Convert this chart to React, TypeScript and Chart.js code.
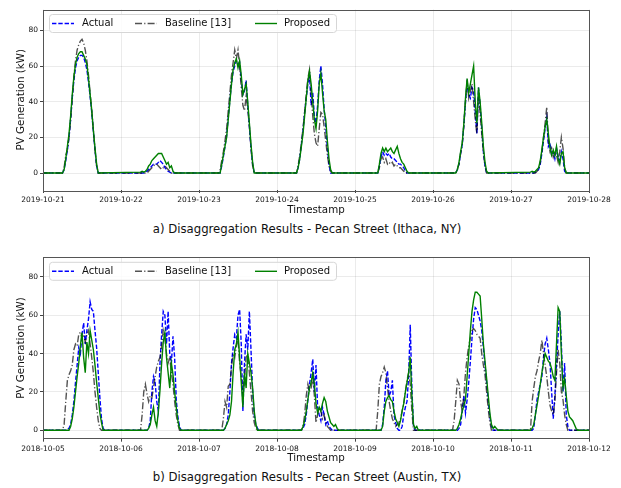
import React, { useEffect, useRef } from "react";
import { Chart, registerables } from "chart.js";

Chart.register(...registerables);

// ---------- data ----------
const DAY_START_HOUR = 6;
const STEP_HOURS = 0.5;
const HOURS_PER_DAY = 24;

const ithacaDates = ["2019-10-21", "2019-10-22", "2019-10-23", "2019-10-24", "2019-10-25", "2019-10-26", "2019-10-27", "2019-10-28"];
const austinDates = ["2018-10-05", "2018-10-06", "2018-10-07", "2018-10-08", "2018-10-09", "2018-10-10", "2018-10-11", "2018-10-12"];
const yTicks = [0, 20, 40, 60, 80];
const seriesNames = ["Actual", "Baseline [13]", "Proposed"];
const captions = [
  "a) Disaggregation Results - Pecan Street (Ithaca, NY)",
  "b) Disaggregation Results - Pecan Street (Austin, TX)",
];

// values per day, from 06:00 every 30 minutes (kW)
const ithacaActual = [
  [0, 2, 7, 13, 20, 30, 42, 52, 59, 63, 65, 66, 66, 65, 62, 58, 51, 43, 34, 23, 13, 4, 0],
  [0, 0, 0, 0.5, 1, 2, 3, 4, 5, 5, 5, 6, 7, 6, 5, 3, 2, 1, 0.5, 0],
  [0, 0, 4, 9, 15, 21, 31, 41, 50, 57, 60, 63, 61, 62, 52, 44, 46, 52, 38, 26, 14, 5, 0],
  [0, 3, 8, 16, 24, 34, 42, 50, 55, 38, 45, 32, 28, 38, 52, 60, 50, 36, 26, 14, 5, 0],
  [0, 0, 0, 4, 9, 12, 10, 11, 10, 11, 9, 8, 8, 7, 6, 5, 5, 4, 3, 1, 0],
  [0, 0, 0, 2, 5, 11, 16, 27, 40, 50, 44, 42, 48, 46, 35, 22, 48, 38, 25, 12, 4, 0],
  [0, 0, 0, 0.5, 1, 2, 5, 11, 18, 25, 31, 15, 17, 10, 12, 8, 14, 9, 6, 12, 8, 1, 0],
];
const ithacaBaseline = [
  [0, 3, 10, 13, 20, 30, 42, 54, 63, 69, 72, 74, 75, 73, 69, 63, 55, 45, 35, 24, 13, 4, 0],
  [0, 0, 0, 0, 0, 1, 2, 3, 4, 5, 5, 4, 3, 2, 3, 4, 3, 2, 1, 0],
  [0, 2, 7, 12, 18, 25, 35, 45, 55, 62, 69, 64, 69, 60, 48, 38, 35, 43, 36, 26, 14, 4, 0],
  [0, 4, 10, 17, 25, 34, 44, 53, 58, 45, 32, 22, 17, 15, 25, 34, 33, 26, 18, 10, 4, 1, 0],
  [0, 0, 0, 3, 8, 9, 6, 8, 5, 6, 5, 6, 4, 5, 4, 3, 3, 2, 1, 0],
  [0, 0, 0, 2, 5, 11, 16, 27, 40, 52, 42, 46, 50, 40, 30, 22, 45, 33, 22, 12, 4, 0],
  [0, 0, 0, 0, 1, 2, 6, 12, 20, 28, 37, 18, 12, 14, 9, 12, 10, 6, 12, 20, 14, 3, 0],
];
const ithacaProposed = [
  [0, 2, 8, 15, 22, 32, 44, 54, 61, 65, 67, 68, 68, 66, 64, 61, 53, 44, 35, 24, 14, 5, 0],
  [0.5, 1, 0.5, 1, 2, 4, 5, 7, 8, 9, 10, 11, 11, 11, 9, 7, 5, 6, 3, 4, 1, 0],
  [0, 0, 5, 10, 15, 20, 30, 40, 50, 58, 62, 64, 59, 63, 55, 44, 47, 50, 40, 28, 16, 6, 0],
  [0, 3, 8, 15, 22, 32, 42, 52, 57, 50, 40, 30, 25, 35, 50, 56, 45, 35, 30, 18, 8, 2, 0],
  [0, 0, 0, 5, 11, 14, 12, 14, 12, 13, 14, 12, 11, 13, 15, 11, 8, 6, 5, 3, 1, 0],
  [0, 0, 0, 2, 6, 12, 17, 28, 42, 53, 45, 50, 55, 60, 40, 28, 48, 40, 28, 15, 6, 1, 0],
  [0.5, 1, 0.5, 1, 2, 3, 7, 13, 20, 26, 30, 22, 14, 10, 13, 10, 15, 8, 5, 11, 12, 3, 0],
];

const austinActual = [
  [0, 0, 0, 0.5, 1, 3, 8, 15, 25, 34, 43, 40, 50, 56, 45, 52, 58, 67, 63, 62, 52, 43, 30, 17, 6, 1, 0],
  [0, 0, 0, 0, 0, 1, 5, 20, 28, 25, 15, 10, 35, 50, 62, 60, 45, 62, 40, 35, 49, 38, 16, 7, 2, 0],
  [0, 0, 0, 0, 1, 3, 8, 20, 35, 43, 50, 48, 60, 63, 45, 10, 35, 50, 42, 62, 42, 20, 8, 3, 1, 0],
  [0, 0, 0, 0, 1, 3, 8, 16, 24, 30, 37, 20, 34, 12, 8, 5, 12, 8, 3, 5, 2, 1, 0],
  [0, 0, 0, 0, 0, 3, 12, 26, 31, 18, 20, 26, 8, 4, 1, 0, 0, 2, 8, 12, 15, 28, 55, 22, 2, 0],
  [0, 0, 0, 0, 1, 3, 10, 18, 9, 16, 25, 36, 48, 58, 64, 63, 60, 57, 52, 43, 34, 25, 15, 7, 2, 0],
  [0, 0, 1, 8, 16, 20, 24, 28, 38, 45, 48, 42, 35, 20, 6, 18, 34, 50, 62, 45, 20, 35, 8, 2, 0],
];
const austinBaseline = [
  [0, 3, 15, 26, 29, 31, 34, 42, 45, 44, 50, 51, 48, 50, 46, 50, 52, 45, 38, 30, 20, 12, 5, 1, 0],
  [0, 8, 20, 24, 19, 15, 18, 17, 22, 28, 33, 36, 38, 44, 52, 48, 40, 35, 38, 30, 24, 15, 8, 3, 0],
  [0, 0, 0, 6, 15, 12, 23, 24, 33, 40, 38, 44, 48, 35, 28, 18, 26, 38, 40, 30, 20, 10, 4, 1, 0],
  [0, 0, 0, 0, 2, 8, 18, 24, 20, 22, 28, 18, 4, 8, 12, 10, 6, 8, 4, 2, 1, 0],
  [0, 0, 10, 24, 28, 30, 33, 30, 22, 15, 10, 6, 4, 2, 3, 4, 6, 10, 14, 20, 26, 30, 24, 10, 0],
  [0, 5, 15, 26, 24, 15, 10, 18, 30, 38, 44, 48, 52, 53, 52, 50, 49, 48, 40, 34, 29, 20, 11, 4, 0],
  [0, 15, 22, 28, 31, 36, 40, 47, 40, 34, 28, 20, 13, 10, 8, 15, 30, 42, 35, 20, 16, 8, 3, 0],
];
const austinProposed = [
  [0, 0, 0, 0, 0, 2, 6, 12, 20, 28, 35, 44, 51, 38, 30, 46, 40, 52, 47, 42, 34, 25, 17, 9, 4, 0],
  [0, 0, 0, 0, 0, 1, 3, 8, 12, 5, 2, 10, 21, 35, 46, 51, 38, 30, 22, 35, 29, 20, 12, 5, 1, 0],
  [0, 0, 0, 0, 1, 3, 5, 8, 15, 30, 42, 45, 51, 38, 25, 12, 30, 22, 40, 35, 30, 22, 10, 3, 0],
  [0, 0, 0, 0, 2, 5, 10, 16, 22, 25, 30, 24, 14, 9, 12, 10, 14, 17, 15, 10, 7, 4, 3, 2, 3, 1, 0],
  [0, 0, 0, 0, 0, 2, 10, 15, 17, 18, 16, 15, 10, 6, 4, 2, 5, 10, 14, 20, 25, 30, 38, 18, 3, 1, 2, 0],
  [0, 0, 0, 1, 3, 6, 10, 13, 16, 28, 40, 52, 62, 68, 72, 72, 71, 70, 58, 45, 36, 27, 18, 9, 3, 1, 2, 1, 0],
  [0, 1, 3, 8, 13, 18, 24, 30, 35, 40, 38, 36, 35, 32, 28, 26, 45, 64, 62, 40, 22, 27, 18, 10, 7, 6, 5, 3, 1, 0],
];

// ---------- styling ----------
const FONT = "'DejaVu Sans', 'Liberation Sans', sans-serif";
const TEXT_COLOR = "#111";
const LINE_WIDTH = 1.4;
const seriesStyles = [
  { color: "#0000ff", dash: [4.4, 1.9] },
  { color: "rgba(0,0,0,0.68)", dash: [7, 2.2, 1.2, 2.2] },
  { color: "#008000", dash: [] as number[] },
];

function buildPoints(days: number[][]) {
  const pts: { x: number; y: number }[] = [{ x: 0, y: 0 }];
  days.forEach((vals, d) => {
    vals.forEach((v, i) => {
      pts.push({ x: d * HOURS_PER_DAY + DAY_START_HOUR + i * STEP_HOURS, y: v });
    });
  });
  pts.push({ x: days.length * HOURS_PER_DAY, y: 0 });
  return pts;
}

const framePlugin = {
  id: "frameAndLegend",
  afterDatasetsDraw(chart: any) {
    const { ctx, chartArea } = chart;
    const { left, top, right, bottom } = chartArea;
    ctx.save();
    // legend box
    const bx = left + 6;
    const by = top + 4.5;
    const bw = 287;
    const bh = 18;
    ctx.beginPath();
    if ((ctx as any).roundRect) (ctx as any).roundRect(bx + 0.5, by + 0.5, bw, bh, 3);
    else ctx.rect(bx + 0.5, by + 0.5, bw, bh);
    ctx.fillStyle = "rgba(255,255,255,0.85)";
    ctx.fill();
    ctx.strokeStyle = "#d6d6d6";
    ctx.lineWidth = 1;
    ctx.stroke();
    const cy = by + bh / 2 + 0.5;
    const handleX = [9, 92, 212];
    const textX = [39, 122, 241];
    seriesNames.forEach((name, i) => {
      const st = seriesStyles[i];
      ctx.beginPath();
      ctx.setLineDash(st.dash);
      ctx.strokeStyle = st.color;
      ctx.lineWidth = LINE_WIDTH;
      ctx.moveTo(left + handleX[i], cy);
      ctx.lineTo(left + handleX[i] + 22, cy);
      ctx.stroke();
      ctx.setLineDash([]);
      ctx.fillStyle = TEXT_COLOR;
      ctx.font = `10px ${FONT}`;
      ctx.textBaseline = "middle";
      ctx.textAlign = "left";
      ctx.fillText(name, left + textX[i], cy);
    });
    // frame
    ctx.strokeStyle = "#555";
    ctx.lineWidth = 1;
    ctx.strokeRect(Math.round(left) + 0.5, Math.round(top) + 0.5, Math.round(right - left), Math.round(bottom - top));
    ctx.restore();
  },
};

type PanelProps = {
  dates: string[];
  actual: number[][];
  baseline: number[][];
  proposed: number[][];
  yMin: number;
  yMax: number;
  topPad: number;
  axisHeight: number;
};

function Panel(props: PanelProps) {
  const ref = useRef<HTMLCanvasElement | null>(null);
  useEffect(() => {
    if (!ref.current) return;
    const { dates, actual, baseline, proposed, yMin, yMax, topPad, axisHeight } = props;
    const seriesData = [actual, baseline, proposed];
    const datasets = seriesData.map((days, i) => ({
      label: seriesNames[i],
      data: buildPoints(days),
      borderColor: seriesStyles[i].color,
      borderDash: seriesStyles[i].dash,
      borderWidth: LINE_WIDTH,
      pointRadius: 0,
      tension: 0,
      fill: false,
      order: 2 - i,
    }));
    const totalHours = (dates.length - 1) * HOURS_PER_DAY;
    const chart = new Chart(ref.current, {
      type: "line",
      data: { datasets },
      plugins: [framePlugin],
      options: {
        animation: false,
        responsive: false,
        devicePixelRatio: 1,
        parsing: false,
        normalized: true,
        layout: { padding: { left: 0, right: 32, top: topPad, bottom: 0 } },
        plugins: { legend: { display: false }, tooltip: { enabled: false }, title: { display: false } },
        scales: {
          x: {
            type: "linear",
            min: 0,
            max: totalHours,
            afterFit: (s: any) => {
              s.height = axisHeight;
            },
            afterBuildTicks: (s: any) => {
              s.ticks = dates.map((_, i) => ({ value: i * HOURS_PER_DAY }));
            },
            ticks: {
              callback: (v: any) => dates[Math.round(Number(v) / HOURS_PER_DAY)],
              font: { family: FONT, size: 7.5 },
              color: TEXT_COLOR,
              padding: 3,
              maxRotation: 0,
              autoSkip: false,
            },
            grid: {
              color: "rgba(0,0,0,0.08)",
              tickColor: "#444",
              tickLength: 3,
              drawTicks: true,
            },
            border: { display: false },
            title: {
              display: true,
              text: "Timestamp",
              font: { family: FONT, size: 10.3 },
              color: TEXT_COLOR,
              padding: { top: 0, bottom: 1 },
            },
          },
          y: {
            type: "linear",
            min: yMin,
            max: yMax,
            afterFit: (s: any) => {
              s.width = 43;
            },
            afterBuildTicks: (s: any) => {
              s.ticks = yTicks.map((v) => ({ value: v }));
            },
            ticks: {
              callback: (v: any) => String(v),
              font: { family: FONT, size: 7.5 },
              color: TEXT_COLOR,
              padding: 2,
            },
            grid: {
              color: "rgba(0,0,0,0.08)",
              tickColor: "#444",
              tickLength: 3,
              drawTicks: true,
            },
            border: { display: false },
            title: {
              display: true,
              text: "PV Generation (kW)",
              font: { family: FONT, size: 10.3 },
              color: TEXT_COLOR,
              padding: { top: 15, bottom: 0 },
            },
          },
        },
      } as any,
    });
    return () => chart.destroy();
  }, []);
  return <canvas ref={ref} width={621} height={218} style={{ display: "block", width: 621, height: 218 }} />;
}

export default function App() {
  const captionStyle: React.CSSProperties = {
    position: "absolute",
    left: 0,
    width: 614,
    textAlign: "center",
    fontFamily: FONT,
    fontSize: 11.7,
    lineHeight: "14px",
    color: TEXT_COLOR,
    whiteSpace: "nowrap",
  };
  return (
    <div style={{ position: "fixed", left: 0, top: 0, width: 621, height: 488, background: "#fff", overflow: "hidden" }}>
      <div style={{ position: "absolute", left: 0, top: 0 }}>
        <Panel
          dates={ithacaDates}
          actual={ithacaActual}
          baseline={ithacaBaseline}
          proposed={ithacaProposed}
          yMin={-9.5}
          yMax={91.7}
          topPad={9.5}
          axisHeight={28}
        />
      </div>
      <div style={{ ...captionStyle, top: 222 }}>{captions[0]}</div>
      <div style={{ position: "absolute", left: 0, top: 248 }}>
        <Panel
          dates={austinDates}
          actual={austinActual}
          baseline={austinBaseline}
          proposed={austinProposed}
          yMin={-4.4}
          yMax={90.2}
          topPad={9.3}
          axisHeight={27.3}
        />
      </div>
      <div style={{ ...captionStyle, top: 470 }}>{captions[1]}</div>
    </div>
  );
}
